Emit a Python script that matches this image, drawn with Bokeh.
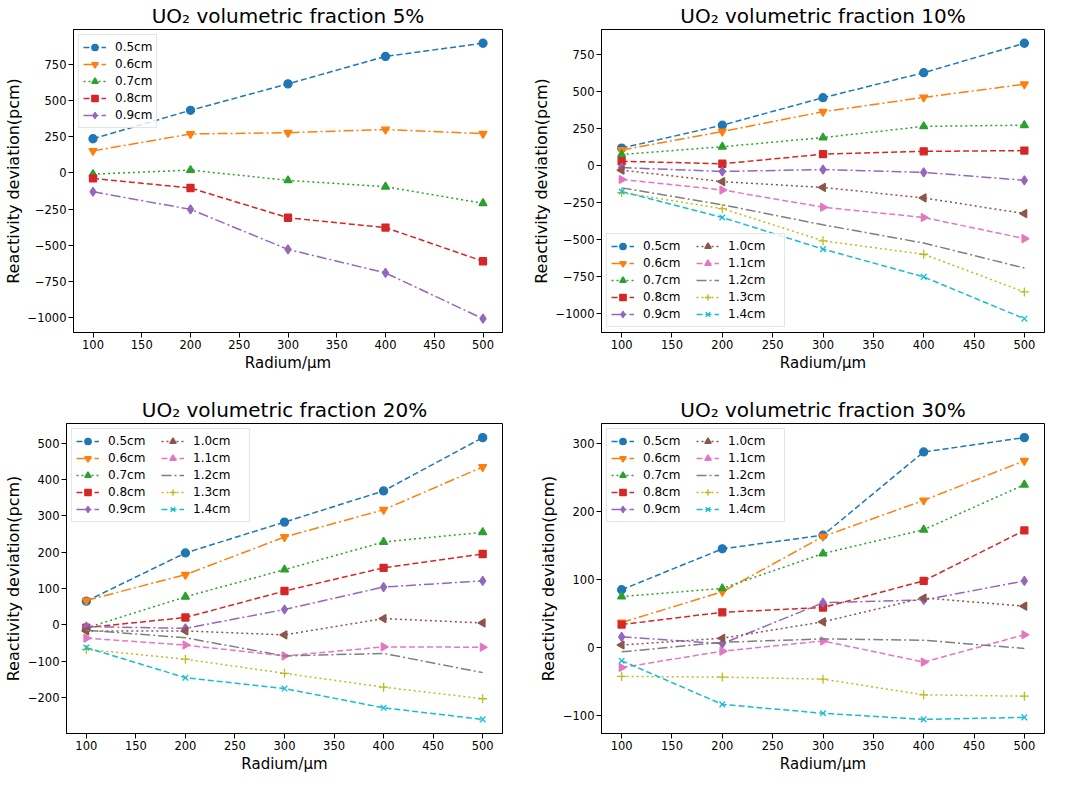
import math
from bokeh.plotting import figure
from bokeh.layouts import row, column
from bokeh.models import Range1d, FixedTicker, Legend, LegendItem
from bokeh.embed import file_html
from bokeh.resources import INLINE

# ---------------- data ----------------
radius = [100, 200, 300, 400, 500]
x_ticks = [100, 150, 200, 250, 300, 350, 400, 450, 500]
labels = ["0.5cm", "0.6cm", "0.7cm", "0.8cm", "0.9cm",
          "1.0cm", "1.1cm", "1.2cm", "1.3cm", "1.4cm"]

# UO2 volumetric fraction 5%
vf5_05 = [237, 434, 617, 807, 898]
vf5_06 = [153, 270, 279, 301, 272]
vf5_07 = [-8, 20, -51, -95, -210]
vf5_08 = [-38, -104, -310, -378, -611]
vf5_09 = [-130, -252, -529, -692, -1009]
vf5_ticks = [-1000, -750, -500, -250, 0, 250, 500, 750]

# UO2 volumetric fraction 10%
vf10_05 = [119, 274, 460, 629, 828]
vf10_06 = [106, 231, 365, 462, 551]
vf10_07 = [76, 128, 190, 266, 274]
vf10_08 = [30, 13, 78, 97, 102]
vf10_09 = [-13, -39, -26, -45, -99]
vf10_10 = [-30, -108, -147, -218, -324]
vf10_11 = [-93, -164, -281, -350, -493]
vf10_12 = [-150, -264, -400, -523, -692]
vf10_13 = [-182, -290, -508, -599, -854]
vf10_14 = [-175, -350, -564, -752, -1035]
vf10_ticks = [-1000, -750, -500, -250, 0, 250, 500, 750]

# UO2 volumetric fraction 20%
vf20_05 = [65, 198, 283, 369, 516]
vf20_06 = [67, 138, 242, 317, 435]
vf20_07 = [-9, 77, 152, 228, 255]
vf20_08 = [-8, 20, 93, 157, 195]
vf20_09 = [-5, -10, 42, 104, 121]
vf20_10 = [-17, -17, -28, 17, 5]
vf20_11 = [-37, -56, -86, -61, -62]
vf20_12 = [-15, -36, -86, -79, -132]
vf20_13 = [-68, -95, -134, -172, -204]
vf20_14 = [-63, -146, -176, -229, -261]
vf20_ticks = [-200, -100, 0, 100, 200, 300, 400, 500]

# UO2 volumetric fraction 30%
vf30_05 = [85, 145, 165, 287, 308]
vf30_06 = [37, 82, 163, 216, 274]
vf30_07 = [75, 87, 138, 173, 239]
vf30_08 = [34, 52, 59, 98, 172]
vf30_09 = [16, 6, 66, 70, 98]
vf30_10 = [4, 14, 38, 73, 61]
vf30_11 = [-29, -5, 10, -21, 19]
vf30_12 = [-6, 8, 13, 11, -1]
vf30_13 = [-42, -43, -46, -69, -71]
vf30_14 = [-19, -83, -96, -105, -102]
vf30_ticks = [-100, 0, 100, 200, 300]

# ---------------- styles ----------------
colors = ["#1f77b4", "#ff7f0e", "#2ca02c", "#d62728", "#9467bd",
          "#8c564b", "#e377c2", "#7f7f7f", "#bcbd22", "#17becf"]
DASHED = "6 3"
DASHDOT = "10 3 2 3"
DOTTED = "2 3"
dashes = [DASHED, DASHDOT, DOTTED, DASHED, DASHDOT,
          DOTTED, DASHED, DASHDOT, DOTTED, DASHED]
markers = ["circle", "inverted_triangle", "triangle", "square", "diamond",
           "triangle", "triangle", None, "cross", "x"]
angles = [0, 0, 0, 0, 0, math.pi / 2, -math.pi / 2, 0, 0, 0]
sizes = [8, 8, 8, 7, 9, 8, 8, 0, 9, 8]
FONT = "DejaVu Sans"


def minus(v):
    return ("\u2212" + str(abs(v))) if v < 0 else str(v)


def make_panel(title, series, yticks, legend_loc, width, height,
               bl, br, bt, bb):
    allv = [v for s in series for v in s]
    lo, hi = min(allv), max(allv)
    pad = (hi - lo) * 0.05
    p = figure(width=width, height=height, output_backend="svg",
               toolbar_location=None,
               x_range=Range1d(80, 520), y_range=Range1d(lo - pad, hi + pad),
               min_border_left=bl, min_border_right=br,
               min_border_top=bt, min_border_bottom=bb)
    p.title.text = title
    p.title.text_font = FONT
    p.title.text_font_size = "20px"
    p.title.text_font_style = "normal"
    p.title.align = "center"
    p.title.text_color = "black"
    p.title.standoff = 3
    p.xgrid.visible = False
    p.ygrid.visible = False
    p.outline_line_color = "black"
    p.outline_line_width = 1
    p.xaxis.ticker = FixedTicker(ticks=x_ticks)
    p.yaxis.ticker = FixedTicker(ticks=yticks)
    p.yaxis.major_label_overrides = {v: minus(v) for v in yticks}
    p.xaxis.axis_label = "Radium/\u03bcm"
    p.yaxis.axis_label = "Reactivity deviation(pcm)"
    p.xaxis.axis_label_text_font_size = "15px"
    p.yaxis.axis_label_text_font_size = "16px"
    for ax in (p.xaxis, p.yaxis):
        ax.axis_label_text_font = FONT
        ax.axis_label_text_font_style = "normal"
        ax.axis_label_text_color = "black"
        ax.axis_label_standoff = 2
        ax.major_label_text_font = FONT
        ax.major_label_text_font_size = "11.5px"
        ax.major_label_text_color = "black"
        ax.major_label_standoff = 2
        ax.major_tick_out = 5
        ax.major_tick_in = 0
        ax.minor_tick_line_color = None
        ax.axis_line_color = "black"
        ax.major_tick_line_color = "black"

    items = []
    for i, s in enumerate(series):
        rs = []
        ln = p.line(radius, s, line_color=colors[i], line_width=1.5,
                    line_dash=dashes[i])
        rs.append(ln)
        if markers[i] is not None:
            mk = p.scatter(radius, s, marker=markers[i], size=sizes[i],
                           angle=angles[i], line_color=colors[i],
                           fill_color=colors[i], line_width=1.3)
            rs.append(mk)
        items.append(LegendItem(label=labels[i], renderers=rs))

    leg = Legend(items=items, location=legend_loc)
    if len(series) > 5:
        leg.nrows = 5
        leg.orientation = "vertical"
        leg.label_width = 52
    leg.margin = 5
    leg.padding = 4
    leg.spacing = 1
    leg.glyph_width = 23
    leg.glyph_height = 16
    leg.label_standoff = 9
    leg.label_text_font = FONT
    leg.label_text_font_size = "12px"
    leg.label_text_color = "black"
    leg.border_line_color = "#cccccc"
    leg.border_line_width = 1
    leg.background_fill_alpha = 0.8
    p.add_layout(leg, "center")
    return p


p1 = make_panel("UO\u2082 volumetric fraction 5%",
                [vf5_05, vf5_06, vf5_07, vf5_08, vf5_09],
                vf5_ticks, "top_left", 524, 387, 58, 22, 15, 55)
p2 = make_panel("UO\u2082 volumetric fraction 10%",
                [vf10_05, vf10_06, vf10_07, vf10_08, vf10_09,
                 vf10_10, vf10_11, vf10_12, vf10_13, vf10_14],
                vf10_ticks, "bottom_left", 525, 387, 77, 5, 15, 55)
p3 = make_panel("UO\u2082 volumetric fraction 20%",
                [vf20_05, vf20_06, vf20_07, vf20_08, vf20_09,
                 vf20_10, vf20_11, vf20_12, vf20_13, vf20_14],
                vf20_ticks, "top_left", 524, 388, 58, 22, 36, 10)
p4 = make_panel("UO\u2082 volumetric fraction 30%",
                [vf30_05, vf30_06, vf30_07, vf30_08, vf30_09,
                 vf30_10, vf30_11, vf30_12, vf30_13, vf30_14],
                vf30_ticks, "top_left", 525, 388, 77, 5, 36, 10)

layout = column(row(p1, p2), row(p3, p4))
open("out.html", "w").write(file_html(layout, INLINE))
